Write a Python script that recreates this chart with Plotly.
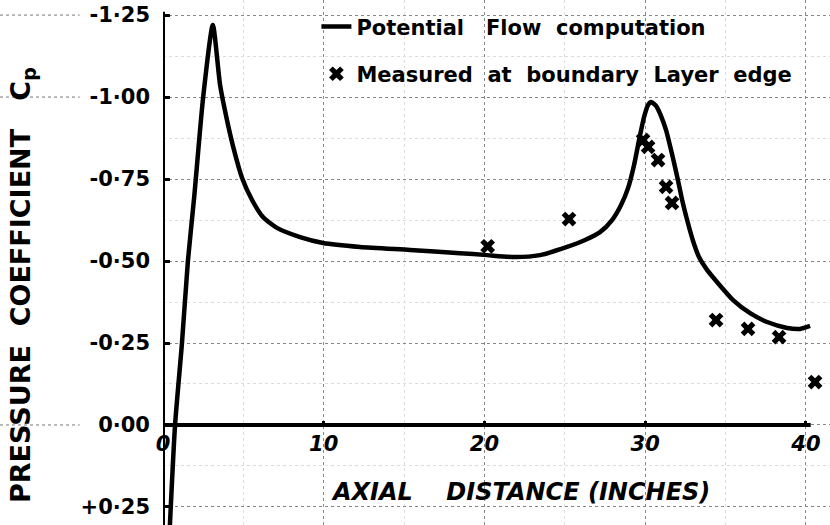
import plotly.graph_objects as go

# ---- data ----
flow_x = [0.43, 0.75, 1.18, 1.55, 1.95, 2.5, 3.1, 3.55, 3.98, 4.42, 4.92, 5.54, 6.22, 7.09,
          8.53, 9.96, 12.26, 15.37, 18.48, 20.16, 21.9, 23.46, 25.14, 26.26, 27.19, 27.94,
          28.5, 28.94, 29.31, 29.62, 29.93, 30.18, 30.37, 30.68, 30.99, 31.3, 31.55, 31.8,
          32.05, 32.3, 32.61, 32.98, 33.35, 33.85, 34.47, 35.47, 36.53, 37.59, 38.83, 39.64,
          40.26]
flow_cp = [0.305, 0.0, -0.25, -0.50, -0.70, -1.0, -1.22, -1.037, -0.93, -0.838, -0.753,
           -0.686, -0.634, -0.601, -0.573, -0.555, -0.543, -0.534, -0.524, -0.518, -0.512,
           -0.518, -0.543, -0.564, -0.588, -0.625, -0.671, -0.723, -0.793, -0.869, -0.939,
           -0.976, -0.985, -0.973, -0.942, -0.899, -0.851, -0.799, -0.744, -0.686, -0.625,
           -0.561, -0.512, -0.473, -0.436, -0.381, -0.341, -0.314, -0.296, -0.293, -0.302]

meas_x = [20.2, 25.26, 29.87, 30.18, 30.8, 31.3, 31.67, 34.41, 36.4, 38.33, 40.57]
meas_cp = [-0.545, -0.628, -0.869, -0.848, -0.808, -0.726, -0.677, -0.32, -0.293, -0.268, -0.131]

x_ticks = [0, 10, 20, 30, 40]
x_ticktext = ["0", "10", "20", "30", "40"]
y_ticks = [-1.25, -1.00, -0.75, -0.50, -0.25, 0.0, 0.25]
y_ticktext = ["-1·25", "-1·00", "-0·75", "-0·50", "-0·25", "0·00", "+0·25"]

FONT = "DejaVu Sans"

fig = go.Figure()
fig.add_trace(go.Scatter(
    x=flow_x, y=flow_cp, mode="lines",
    line=dict(color="black", width=4.5, shape="spline", smoothing=0.6),
    name="Potential   Flow  computation", legendgroup="a"))
fig.add_trace(go.Scatter(
    x=meas_x, y=meas_cp, mode="markers",
    marker=dict(symbol="x", size=13, color="black", line=dict(width=0)),
    name="Measured  at  boundary  Layer  edge", legendgroup="b"))

grid = dict(showgrid=True, gridcolor="#888", griddash="dot", gridwidth=1)

fig.update_layout(
    width=830, height=525,
    margin=dict(l=163, r=0, t=0, b=0),
    plot_bgcolor="white", paper_bgcolor="white",
    font=dict(family=FONT, color="black"),
    showlegend=True,
    legend=dict(x=0.23, y=0.988, xanchor="left", yanchor="top",
                traceorder="grouped", tracegroupgap=17,
                bgcolor="rgba(0,0,0,0)",
                font=dict(family=FONT, size=21, color="black", weight="bold")),
    xaxis=dict(range=[0, 41.5], anchor="free", position=(0.305 - 0) / (0.305 + 1.296),
               tickmode="array", tickvals=x_ticks, ticktext=x_ticktext,
               ticks="inside", ticklen=4, tickwidth=3, tickcolor="black",
               ticklabelstandoff=4,
               tickfont=dict(family=FONT, size=21, color="black", weight="bold", style="italic"),
               showline=False, zeroline=False,
               minor=dict(dtick=5, tick0=0, showgrid=True, gridcolor="#ddd", griddash="dot"),
               **grid),
    yaxis=dict(range=[0.305, -1.296],
               tickmode="array", tickvals=y_ticks, ticktext=y_ticktext,
               ticks="inside", ticklen=7, tickwidth=3, tickcolor="black",
               ticklabelstandoff=12,
               tickfont=dict(family=FONT, size=21, color="black", weight="bold"),
               showline=False, zeroline=False,
               minor=dict(dtick=0.125, tick0=0, showgrid=True, gridcolor="#ddd", griddash="dot"),
               **grid),
)

# hand-drawn axes: y-axis line from the bottom up to about -1.26, x-axis line at Cp = 0
fig.add_shape(type="line", xref="x", yref="y", x0=0, x1=0, y0=0.305, y1=-1.26,
              line=dict(color="black", width=4))
fig.add_shape(type="line", xref="x", yref="y", x0=0, x1=40.3, y0=0, y1=0,
              line=dict(color="black", width=4))
# graph-paper stubs to the left of the axis
for yv in [-1.25, -1.00, 0.0]:
    fig.add_shape(type="line", xref="paper", yref="y", x0=-0.2444, x1=-0.125, y0=yv, y1=yv,
                  line=dict(color="#777", width=1, dash="dot"))

fig.add_annotation(text="PRESSURE  COEFFICIENT   C<sub>p</sub>", xref="paper", yref="paper",
                   x=(22 - 163) / 667, y=(525 - 285) / 525, textangle=-90, showarrow=False,
                   xanchor="center", yanchor="middle",
                   font=dict(family=FONT, size=27, color="black", weight="bold"))
fig.add_annotation(text="AXIAL    DISTANCE (INCHES)", xref="paper", yref="paper",
                   x=(520 - 163) / 667, y=(525 - 492) / 525, showarrow=False,
                   xanchor="center", yanchor="middle",
                   font=dict(family=FONT, size=24, color="black", weight="bold", style="italic"))

fig.write_html("out.html", config={"displayModeBar": False},
               post_script="document.body.style.margin='0px';")
